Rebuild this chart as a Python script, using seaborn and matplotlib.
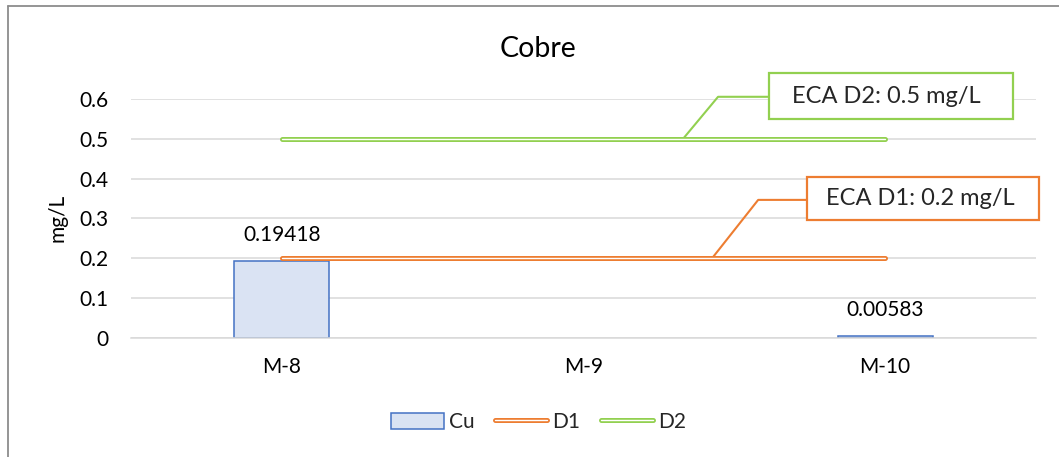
import numpy as np
import pandas as pd
import seaborn as sns
import matplotlib.pyplot as plt
import matplotlib.patheffects as pe
from matplotlib.patches import Rectangle
from matplotlib.lines import Line2D

# data
muestras = ['M-8', 'M-9', 'M-10']
cu = [0.19418, np.nan, 0.00583]
d1 = [0.2, 0.2, 0.2]
d2 = [0.5, 0.5, 0.5]
cu_labels = ['0.19418', '', '0.00583']

sns.set_theme(style="white")
plt.rcParams['font.family'] = ['Lato', 'DejaVu Sans']

orange = '#ED7D31'
green = '#92D050'
blue = '#4472C4'
fs = 15

fig = plt.figure(figsize=(10.59, 4.57), dpi=100)
ax = fig.add_axes([0.1237, 0.2604, 0.8546, 0.5230])

df = pd.DataFrame({'Muestra': muestras, 'Cu': cu})
sns.barplot(data=df, x='Muestra', y='Cu', order=muestras, width=0.315,
            color='#DAE3F3', edgecolor=blue, linewidth=1.1, saturation=1,
            label='Cu', ax=ax)
for p in ax.patches:
    p.set_facecolor('#DAE3F3')

xs = np.arange(len(muestras))
ax.plot(xs, d1, color='white', lw=1.0, solid_capstyle='round', label='D1',
        path_effects=[pe.Stroke(linewidth=3.6, foreground=orange, capstyle='round'), pe.Normal()], zorder=4)
ax.plot(xs, d2, color='white', lw=1.0, solid_capstyle='round', label='D2',
        path_effects=[pe.Stroke(linewidth=3.6, foreground=green, capstyle='round'), pe.Normal()], zorder=4)

# value labels
for i, (v, t) in enumerate(zip(cu, cu_labels)):
    if t:
        ax.annotate(t, (i, v), xytext=(0, 11), textcoords='offset points',
                    ha='center', va='bottom', fontsize=fs, color='#000000')

ax.set_xlim(-0.5, len(muestras) - 0.5)
ax.set_ylim(0, 0.6)
ax.set_yticks([0, 0.1, 0.2, 0.3, 0.4, 0.5, 0.6])
ax.set_yticklabels(['0', '0.1', '0.2', '0.3', '0.4', '0.5', '0.6'])
ax.yaxis.grid(True, color='#D9D9D9', lw=1.1)
ax.set_axisbelow(True)
for s in ['top', 'right', 'left']:
    ax.spines[s].set_visible(False)
ax.spines['bottom'].set_color('#D9D9D9')
ax.spines['bottom'].set_linewidth(1.1)
ax.tick_params(axis='y', length=0, pad=16, labelsize=fs, labelcolor='#000000')
ax.tick_params(axis='x', length=0, pad=14, labelsize=fs, labelcolor='#000000')
ax.set_xlabel('')
ax.set_ylabel('')
if ax.get_legend():
    ax.get_legend().remove()

fig.text(0.508, 0.893, 'Cobre', ha='center', va='center', fontsize=20.5, color='#000000')
fig.text(0.054, 0.523, 'mg/L', ha='center', va='center', rotation=90, fontsize=fs, color='#000000')

# callouts
ax.plot([1.33, 1.446, 1.615], [0.5, 0.6055, 0.6055], color=green, lw=1.5, clip_on=False, zorder=3)
ax.plot([1.426, 1.579, 1.741], [0.2, 0.3467, 0.3467], color=orange, lw=1.5, clip_on=False, zorder=3)
fig.add_artist(Rectangle((0.7262, 0.7396), 0.2304, 0.1007, transform=fig.transFigure,
                         facecolor='white', edgecolor=green, lw=1.6, zorder=5))
fig.text(0.8370, 0.7899, 'ECA D2: 0.5 mg/L', ha='center', va='center', fontsize=17, zorder=6)
fig.add_artist(Rectangle((0.762, 0.5186), 0.2191, 0.0941, transform=fig.transFigure,
                         facecolor='white', edgecolor=orange, lw=1.6, zorder=5))
fig.text(0.8690, 0.5646, 'ECA D1: 0.2 mg/L', ha='center', va='center', fontsize=17, zorder=6)

# legend
handles = [Rectangle((0, 0), 1, 1, facecolor='#DAE3F3', edgecolor=blue, lw=1.1),
           Line2D([], [], color='white', lw=1.0,
                  path_effects=[pe.Stroke(linewidth=3.6, foreground=orange), pe.Normal()]),
           Line2D([], [], color='white', lw=1.0,
                  path_effects=[pe.Stroke(linewidth=3.6, foreground=green), pe.Normal()])]
fig.legend(handles, ['Cu', 'D1', 'D2'], loc='center', bbox_to_anchor=(0.509, 0.0766),
           ncol=3, frameon=False, fontsize=fs, handlelength=2.5, handleheight=0.8,
           handletextpad=0.25, columnspacing=1.0)

# outer chart frame (only top and left edges visible)
fig.add_artist(Line2D([0.0075, 0.0075], [0, 0.9858], transform=fig.transFigure, color='#8C8C8C', lw=1.3))
fig.add_artist(Line2D([0.0075, 1.0], [0.9858, 0.9858], transform=fig.transFigure, color='#8C8C8C', lw=1.3))

fig.savefig('out.png', dpi=100, facecolor='white')
